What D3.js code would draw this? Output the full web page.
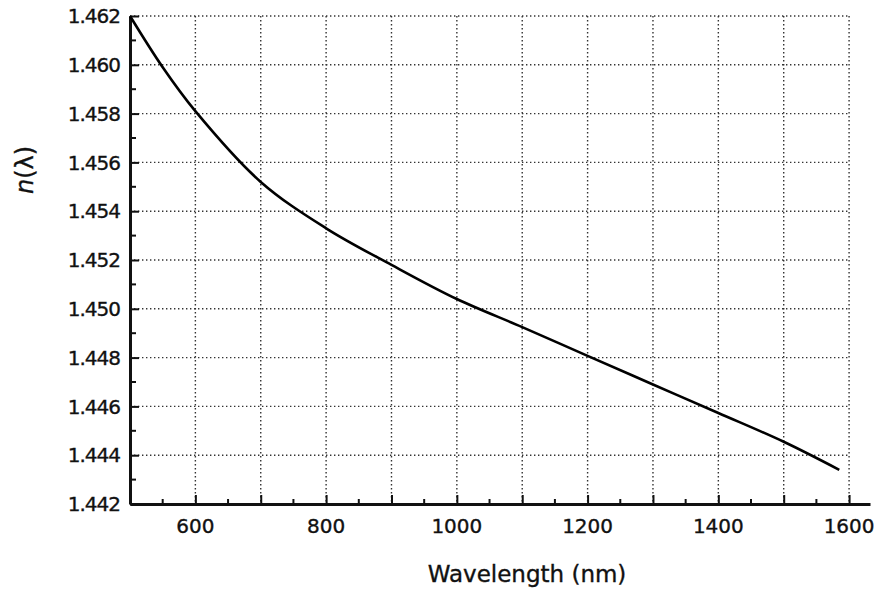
<!DOCTYPE html>
<html>
<head>
<meta charset="utf-8">
<script src="https://cdn.jsdelivr.net/npm/d3@7"></script>
<style>
  body { margin: 0; background: #fff; }
  svg text { font-family: "DejaVu Sans", sans-serif; fill: #111; stroke: #111; stroke-width: 0.35px; }
  .grid line { stroke: #333; stroke-width: 1.4; stroke-dasharray: 1.4 2.6; }
</style>
</head>
<body>
<div class="chart"></div>
<script>

// values
const wavelength = [500, 550, 600, 700, 800, 900, 1000, 1100, 1200, 1300, 1400, 1500, 1585]
const index = [1.4620, 1.4599, 1.4581, 1.4552, 1.4533, 1.4518, 1.4504, 1.44925, 1.44807, 1.4469, 1.44573, 1.44455, 1.4434]

const xLabels = [600, 800, 1000, 1200, 1400, 1600]
const xMajor = [600, 700, 800, 900, 1000, 1100, 1200, 1300, 1400, 1500, 1600]
const xMinor = [550, 650, 750, 850, 950, 1050, 1150, 1250, 1350, 1450, 1550]
const yMajor = [1.442, 1.444, 1.446, 1.448, 1.450, 1.452, 1.454, 1.456, 1.458, 1.460, 1.462]
const yMinor = [1.443, 1.445, 1.447, 1.449, 1.451, 1.453, 1.455, 1.457, 1.459, 1.461]

const width = 881, height = 592;

const svg = d3.select('.chart')
.append('svg')
.attr('width', width)
.attr('height', height)

let x = d3.scaleLinear()
.domain([500, 1632])
.range([130, 870])

let y = d3.scaleLinear()
.domain([1.442, 1.462])
.range([504, 16])

// dotted grid
const grid = svg.append('g').attr('class', 'grid')

grid.selectAll('.gx')
.data(xMajor)
.enter()
.append('line')
.attr('x1', d => x(d)).attr('x2', d => x(d))
.attr('y1', y(1.462)).attr('y2', y(1.442))

grid.selectAll('.gy')
.data(yMajor.filter(d => d > 1.442))
.enter()
.append('line')
.attr('x1', x(500)).attr('x2', x(1600))
.attr('y1', d => y(d)).attr('y2', d => y(d))

// bottom axis: inward ticks
const xAxis = svg.append('g')
.attr('transform', `translate(0,${y(1.442)})`)
.call(d3.axisBottom(x).tickValues(xMajor).tickSizeInner(-9).tickSizeOuter(0).tickFormat(''))

xAxis.select('.domain').attr('stroke-width', 3).attr('stroke', '#111')
xAxis.selectAll('.tick line').attr('stroke-width', 2).attr('stroke', '#111')

xAxis.selectAll('.minor')
.data(xMinor)
.enter()
.append('line')
.attr('x1', d => x(d)).attr('x2', d => x(d))
.attr('y1', 0).attr('y2', -5)
.attr('stroke', '#111').attr('stroke-width', 2)

xAxis.selectAll('.xlab')
.data(xLabels)
.enter()
.append('text')
.attr('x', d => x(d))
.attr('y', 29)
.attr('text-anchor', 'middle')
.style('font-size', '20px')
.text(d => d)

// left axis: inward ticks
const yAxis = svg.append('g')
.attr('transform', `translate(${x(500)},0)`)
.call(d3.axisLeft(y).tickValues(yMajor).tickSizeInner(-9).tickSizeOuter(0).tickFormat(''))

yAxis.select('.domain').attr('stroke-width', 3).attr('stroke', '#111')
yAxis.selectAll('.tick line').attr('stroke-width', 2).attr('stroke', '#111')

yAxis.selectAll('.minor')
.data(yMinor)
.enter()
.append('line')
.attr('y1', d => y(d)).attr('y2', d => y(d))
.attr('x1', 0).attr('x2', 6)
.attr('stroke', '#111').attr('stroke-width', 2)

yAxis.selectAll('.ylab')
.data(yMajor)
.enter()
.append('text')
.attr('x', -10)
.attr('y', d => y(d))
.attr('dy', '0.36em')
.attr('text-anchor', 'end')
.style('font-size', '20px')
.style('letter-spacing', '-1px')
.text(d => d3.format('.3f')(d))

// curve
const line = d3.line()
.x((d, i) => x(wavelength[i]))
.y(d => y(d))
.curve(d3.curveCatmullRom.alpha(0.5))

svg.append('path')
.datum(index)
.attr('d', line)
.attr('fill', 'none')
.attr('stroke', '#000')
.attr('stroke-width', 2.6)

// titles
svg.append('text')
.attr('x', 527)
.attr('y', 582)
.attr('text-anchor', 'middle')
.style('font-size', '23px')
.text('Wavelength (nm)')

svg.append('text')
.attr('transform', 'translate(33,170) rotate(-90)')
.attr('text-anchor', 'middle')
.style('font-size', '24px')
.html('<tspan font-style="italic">n</tspan>(λ)')

</script>
</body>
</html>
